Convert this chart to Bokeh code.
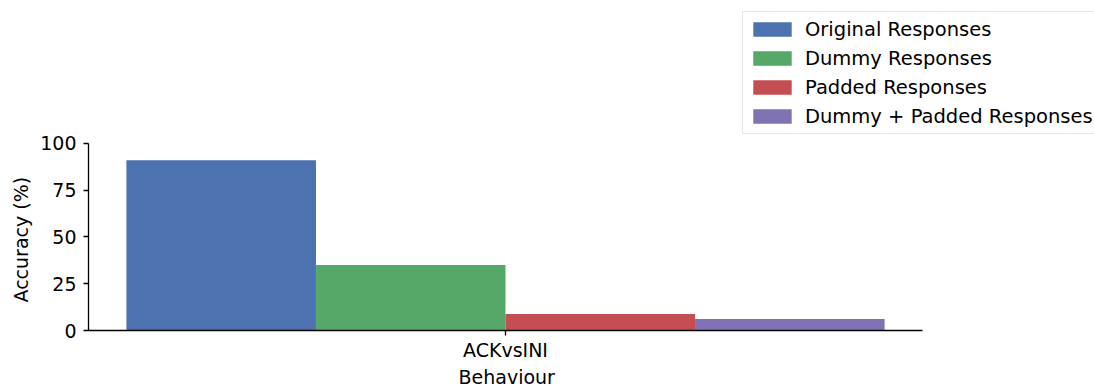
from bokeh.plotting import figure
from bokeh.models import Range1d, FixedTicker, Legend, LegendItem, Title
from bokeh.embed import file_html
from bokeh.resources import INLINE

# Accuracy per response variant, for each behaviour category
categories = ["ACKvsINI"]
series_names = ["Original Responses", "Dummy Responses", "Padded Responses", "Dummy + Padded Responses"]
original = [91.0]
dummy = [35.0]
padded = [8.8]
dummy_padded = [6.1]
y_ticks = [0, 25, 50, 75, 100]

series_values = [original, dummy, padded, dummy_padded]
colors = ["#4C72B0", "#55A868", "#C44E52", "#8172B3"]

FONT = "DejaVu Sans"
FS = "19px"

W, H = 1094, 387
LEFT, BOTTOM = 88, 57
# axes span (data units) and their pixel extent; the frame is larger so the
# legend can sit above/right of the axes without being clipped
X_LO, X_HI = -0.44, len(categories) - 1 + 0.44
AX_W_PX = 834
Y_LO, Y_HI = 0, 100
AX_H_PX = 187.2

frame_w = W - LEFT
frame_h = H - BOTTOM
x_end = X_LO + (X_HI - X_LO) * frame_w / AX_W_PX
y_end = Y_LO + (Y_HI - Y_LO) * frame_h / AX_H_PX

n = len(series_names)
bar_w = 0.8 / n

p = figure(width=W, height=H, output_backend="svg", toolbar_location=None,
           x_range=Range1d(X_LO, x_end), y_range=Range1d(Y_LO, y_end),
           min_border_left=LEFT, min_border_right=0,
           min_border_top=0, min_border_bottom=BOTTOM)

items = []
for i, (name, vals, col) in enumerate(zip(series_names, series_values, colors)):
    xs = [k - 0.4 + bar_w * (i + 0.5) for k in range(len(categories))]
    r = p.vbar(x=xs, top=vals, width=bar_w, fill_color=col, line_color=None)
    items.append(LegendItem(label=name, renderers=[r]))

p.outline_line_color = None
p.grid.grid_line_color = None
p.background_fill_color = "white"
p.border_fill_color = "white"

# x axis: one tick per behaviour category
p.xaxis.ticker = FixedTicker(ticks=list(range(len(categories))))
p.xaxis.major_label_overrides = {k: c for k, c in enumerate(categories)}
p.xaxis.bounds = (X_LO, X_HI)
p.yaxis.ticker = FixedTicker(ticks=y_ticks)
p.yaxis.bounds = (Y_LO, Y_HI)

for ax in (p.xaxis, p.yaxis):
    ax.axis_line_color = "black"
    ax.axis_line_width = 1.3
    ax.major_tick_line_color = "black"
    ax.major_tick_line_width = 1.3
    ax.major_tick_out = 5
    ax.major_tick_in = 0
    ax.minor_tick_line_color = None
    ax.major_label_text_font = FONT
    ax.major_label_text_font_size = FS
    ax.major_label_text_color = "black"

p.xaxis.major_label_standoff = 3
p.yaxis.major_label_standoff = 7

# axis titles, centred on the axes span rather than on the whole frame
ylab = Title(text="Accuracy (%)", align="left", offset=28, standoff=12,
             text_font=FONT, text_font_size=FS, text_font_style="normal",
             text_color="black")
p.add_layout(ylab, "left")
xlab = Title(text="Behaviour", align="left", offset=370, standoff=0,
             text_font=FONT, text_font_size=FS, text_font_style="normal",
             text_color="black")
p.add_layout(xlab, "below")

legend = Legend(items=items, location=(654, 196), orientation="vertical",
                label_text_font=FONT, label_text_font_size="19.5px",
                label_text_color="black", label_height=24,
                glyph_width=48, glyph_height=18, label_standoff=9,
                padding=5, spacing=5, margin=0,
                border_line_color="#cccccc", border_line_width=1,
                background_fill_color="white", background_fill_alpha=0.8)
p.add_layout(legend, "center")

open("out.html", "w").write(file_html(p, INLINE))
